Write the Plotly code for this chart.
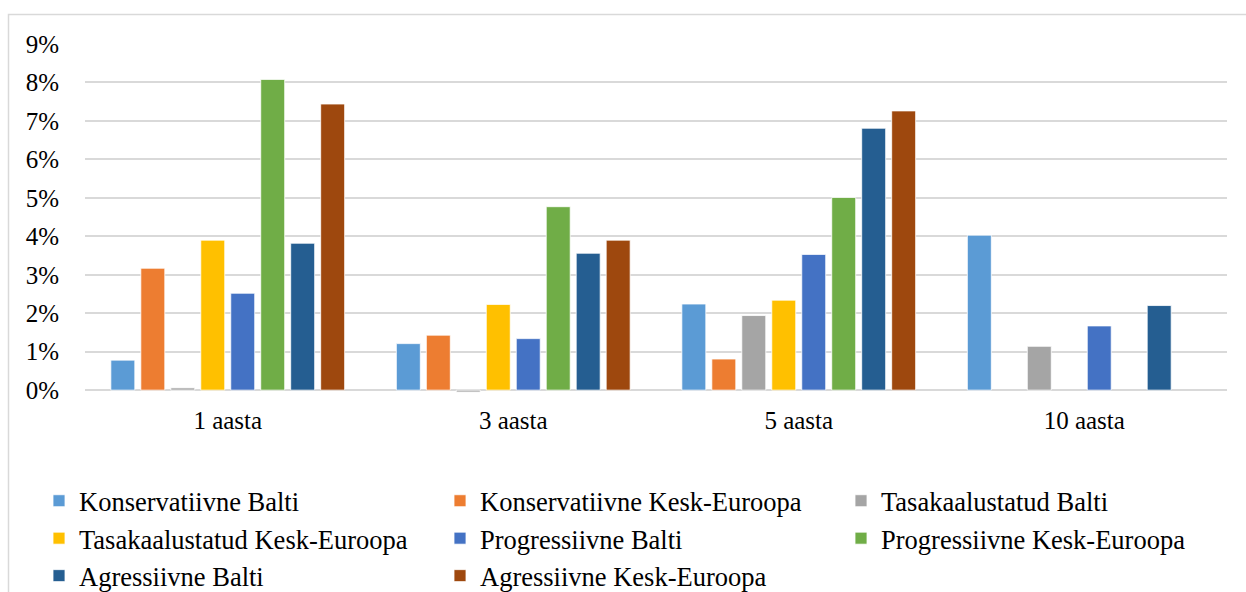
import plotly.graph_objects as go

# Periods on the category axis
periods = ["1 aasta", "3 aasta", "5 aasta", "10 aasta"]

# Average annual returns per portfolio (%), None where no value exists
konservatiivne_balti = [0.78, 1.21, 2.24, 4.03]
konservatiivne_kesk = [3.17, 1.43, 0.81, None]
tasakaalustatud_balti = [0.06, -0.05, 1.94, 1.14]
tasakaalustatud_kesk = [3.90, 2.23, 2.34, None]
progressiivne_balti = [2.52, 1.34, 3.53, 1.67]
progressiivne_kesk = [8.08, 4.77, 5.01, None]
agressiivne_balti = [3.82, 3.56, 6.81, 2.20]
agressiivne_kesk = [7.44, 3.90, 7.26, None]

series = [
    ("Konservatiivne Balti", konservatiivne_balti, "#5B9BD5"),
    ("Konservatiivne Kesk-Euroopa", konservatiivne_kesk, "#ED7D31"),
    ("Tasakaalustatud Balti", tasakaalustatud_balti, "#A5A5A5"),
    ("Tasakaalustatud Kesk-Euroopa", tasakaalustatud_kesk, "#FFC000"),
    ("Progressiivne Balti", progressiivne_balti, "#4472C4"),
    ("Progressiivne Kesk-Euroopa", progressiivne_kesk, "#70AD47"),
    ("Agressiivne Balti", agressiivne_balti, "#255E91"),
    ("Agressiivne Kesk-Euroopa", agressiivne_kesk, "#9E480E"),
]

y_ticks = list(range(0, 10))
y_tick_text = [f"{v}%" for v in y_ticks]

W, H = 1246, 592
ML, MR, MT, MB = 85, 19, 44, 198
FONT = "Liberation Serif, Times New Roman, serif"
ENTRY_W = 356       # legend entry width for the first two columns
LAST_COL_W = 320    # narrower entries in the last legend column

fig = go.Figure()
for i, (name, values, color) in enumerate(series):
    fig.add_trace(go.Bar(
        x=periods,
        y=values,
        name=name,
        marker=dict(color=color, line=dict(color="white", width=0.8)),
        legendwidth=LAST_COL_W if i % 3 == 2 else ENTRY_W,
    ))

plot_w = W - ML - MR
plot_h = H - MT - MB


def px_x(px):
    return (px - ML) / plot_w


def px_y(py):
    return 1 - (py - MT) / plot_h


# Light frame around the chart area
fig.add_shape(type="rect", xref="paper", yref="paper",
              x0=px_x(8.5), x1=px_x(W + 20), y0=px_y(H + 20), y1=px_y(14.5),
              line=dict(color="#d9d9d9", width=1.5), fillcolor="rgba(0,0,0,0)",
              layer="below")

fig.update_layout(
    width=W, height=H,
    margin=dict(l=ML, r=MR, t=MT, b=MB, autoexpand=False),
    paper_bgcolor="white", plot_bgcolor="white",
    font=dict(family=FONT, size=25, color="black"),
    barmode="group", bargap=0.16, bargroupgap=0.2,
    showlegend=True,
    legend=dict(
        orientation="h",
        x=px_x(39), xanchor="left",
        y=px_y(477), yanchor="top",
        font=dict(family=FONT, size=26.5, color="black"),
        tracegroupgap=0,
        itemclick=False,
    ),
    xaxis=dict(
        showgrid=False, showline=False, ticks="",
        ticklabelstandoff=9,
        tickfont=dict(family=FONT, size=25, color="black"),
    ),
    yaxis=dict(
        range=[-0.1, 9],
        tickvals=y_ticks, ticktext=y_tick_text,
        showgrid=True, gridcolor="#d9d9d9", gridwidth=1.5,
        zeroline=True, zerolinecolor="#d9d9d9", zerolinewidth=1.5,
        showline=False, ticks="",
        ticklabelstandoff=25,
        tickfont=dict(family=FONT, size=25, color="black"),
    ),
)

fig.write_html("out.html")
